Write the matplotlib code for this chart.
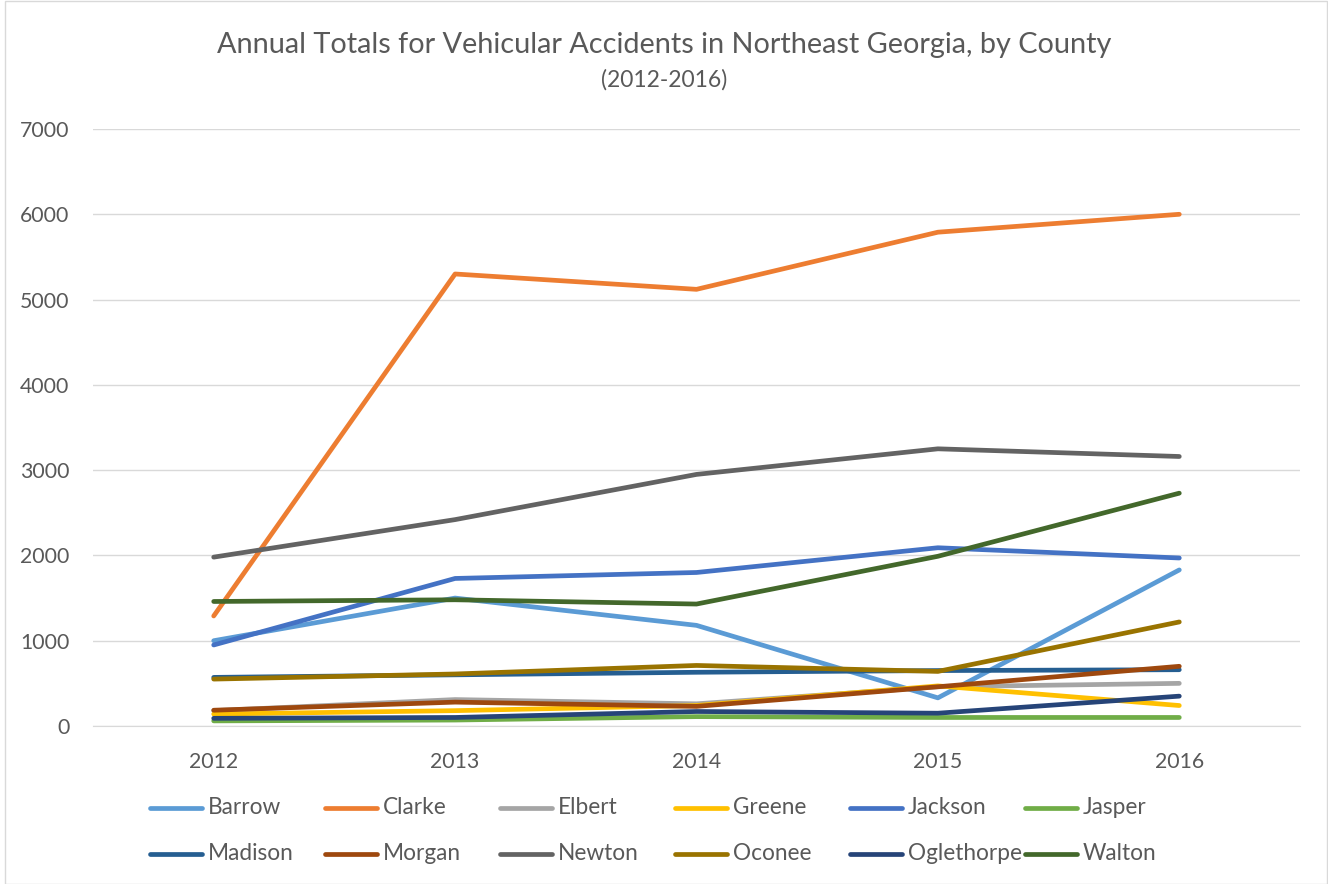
import matplotlib
matplotlib.use("Agg")
import matplotlib.pyplot as plt
from matplotlib.lines import Line2D
from matplotlib.patches import Rectangle

# data
years = ["2012", "2013", "2014", "2015", "2016"]
counties = ["Barrow", "Clarke", "Elbert", "Greene", "Jackson", "Jasper",
            "Madison", "Morgan", "Newton", "Oconee", "Oglethorpe", "Walton"]

barrow = [1000, 1500, 1180, 330, 1830]
clarke = [1290, 5300, 5120, 5790, 6000]
elbert = [180, 310, 260, 460, 500]
greene = [140, 180, 240, 470, 240]
jackson = [950, 1730, 1800, 2090, 1970]
jasper = [60, 70, 110, 100, 100]
madison = [570, 600, 630, 650, 660]
morgan = [185, 280, 230, 460, 700]
newton = [1980, 2420, 2950, 3250, 3160]
oconee = [550, 610, 710, 640, 1220]
oglethorpe = [90, 100, 170, 150, 350]
walton = [1460, 1480, 1430, 1990, 2730]

series = [barrow, clarke, elbert, greene, jackson, jasper,
          madison, morgan, newton, oconee, oglethorpe, walton]
colors = ["#5B9BD5", "#ED7D31", "#A5A5A5", "#FFC000", "#4472C4", "#70AD47",
          "#255E91", "#9E480E", "#636363", "#997300", "#264478", "#43682B"]

plt.rcParams['font.family'] = ['Lato', 'DejaVu Sans']
txt = "#595959"

W, H = 1328, 884
fig = plt.figure(figsize=(W / 100, H / 100), dpi=100)
fig.add_artist(Rectangle((5 / W, 0.5 / H), 1 - 6 / W, 1 - 1.5 / H,
                         transform=fig.transFigure, fill=False,
                         edgecolor="#D9D9D9", linewidth=1))

ax = fig.add_axes([93 / W, 1 - 726 / H, (1300 - 93) / W, (726 - 129) / H])
x = list(range(len(years)))
for vals, c in zip(series, colors):
    ax.plot(x, vals, color=c, linewidth=3.4, solid_capstyle="round",
            solid_joinstyle="round")

ax.set_xlim(-0.5, len(years) - 0.5)
ax.set_ylim(0, 7000)
ax.set_yticks(range(0, 7001, 1000))
ax.set_xticks(x)
ax.set_xticklabels(years)
ax.grid(axis="y", color="#D9D9D9", linewidth=1)
ax.set_axisbelow(True)
for s in ["top", "right", "left"]:
    ax.spines[s].set_visible(False)
ax.spines["bottom"].set_color("#D9D9D9")
ax.tick_params(length=0, labelsize=15.3, colors=txt)
ax.tick_params(axis="y", pad=17)
ax.tick_params(axis="x", pad=19)

fig.text(0.5, 1 - 45 / H, "Annual Totals for Vehicular Accidents in Northeast Georgia, by County",
         ha="center", va="center", fontsize=20.8, color=txt)
fig.text(0.5, 1 - 80 / H, "(2012-2016)", ha="center", va="center",
         fontsize=16.5, color=txt)

# legend: 2 rows x 6 columns, evenly spaced like the original
for i, (name, c) in enumerate(zip(counties, colors)):
    row, col = divmod(i, 6)
    x0 = 150 + col * 175
    yy = 1 - (808 + row * 46) / H
    fig.add_artist(Line2D([x0 / W, (x0 + 52) / W], [yy, yy], color=c,
                          linewidth=3.4, solid_capstyle="round",
                          transform=fig.transFigure))
    fig.text((x0 + 58) / W, yy, name, ha="left", va="center",
             fontsize=16.3, color=txt)

fig.savefig("out.png", dpi=100)
